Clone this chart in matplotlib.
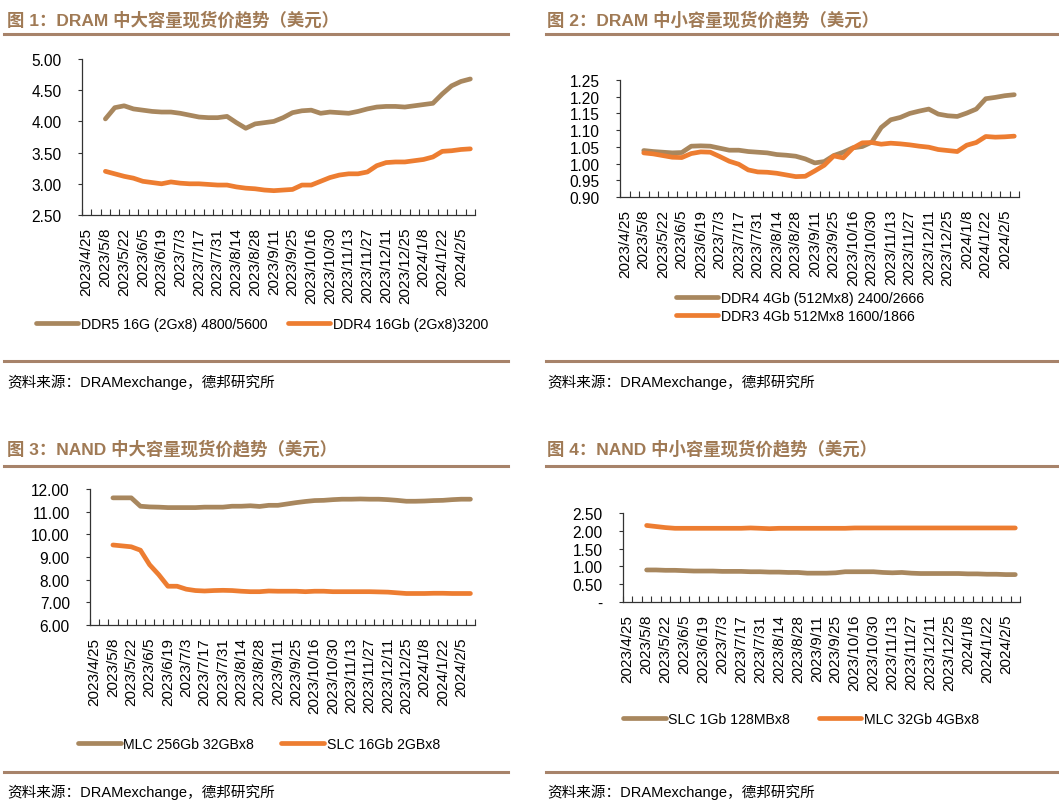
import numpy as np
import matplotlib
matplotlib.use('Agg')
import matplotlib.pyplot as plt
from matplotlib.lines import Line2D
from matplotlib.ticker import FixedLocator, FuncFormatter

plt.rcParams['font.family'] = ['Liberation Sans', 'Noto Sans CJK SC', 'DejaVu Sans']

# ---------------- data ----------------
dates = ['2023/4/25', '2023/5/1', '2023/5/8', '2023/5/15', '2023/5/22', '2023/5/29',
         '2023/6/5', '2023/6/12', '2023/6/19', '2023/6/26', '2023/7/3', '2023/7/10',
         '2023/7/17', '2023/7/24', '2023/7/31', '2023/8/7', '2023/8/14', '2023/8/21',
         '2023/8/28', '2023/9/4', '2023/9/11', '2023/9/18', '2023/9/25', '2023/10/9',
         '2023/10/16', '2023/10/23', '2023/10/30', '2023/11/6', '2023/11/13', '2023/11/20',
         '2023/11/27', '2023/12/4', '2023/12/11', '2023/12/18', '2023/12/25', '2024/1/1',
         '2024/1/8', '2024/1/15', '2024/1/22', '2024/1/29', '2024/2/5', '2024/2/19']
first_idx = 2  # data begins at 2023/5/8

ddr5_16g = [4.04, 4.22, 4.25, 4.20, 4.18, 4.16, 4.15, 4.15, 4.13, 4.10,
            4.07, 4.06, 4.06, 4.08, 3.98, 3.89, 3.96, 3.98, 4.00, 4.06,
            4.14, 4.17, 4.18, 4.13, 4.15, 4.14, 4.13, 4.16, 4.20, 4.23,
            4.24, 4.24, 4.23, 4.25, 4.27, 4.29, 4.44, 4.57, 4.64, 4.68]
ddr4_16gb = [3.20, 3.16, 3.12, 3.09, 3.04, 3.02, 3.00, 3.03, 3.01, 3.00,
             3.00, 2.99, 2.98, 2.98, 2.95, 2.93, 2.92, 2.90, 2.89, 2.90,
             2.91, 2.98, 2.98, 3.04, 3.10, 3.14, 3.16, 3.16, 3.19, 3.29,
             3.34, 3.35, 3.35, 3.37, 3.39, 3.43, 3.52, 3.53, 3.55, 3.56]

ddr4_4gb = [1.039, 1.036, 1.034, 1.032, 1.033, 1.052, 1.053, 1.052, 1.046, 1.040,
            1.040, 1.036, 1.034, 1.032, 1.027, 1.025, 1.022, 1.014, 1.002, 1.006,
            1.024, 1.034, 1.047, 1.051, 1.064, 1.108, 1.131, 1.138, 1.150, 1.157,
            1.163, 1.148, 1.143, 1.141, 1.151, 1.163, 1.194, 1.198, 1.203, 1.206]
ddr3_4gb = [1.032, 1.029, 1.024, 1.019, 1.018, 1.030, 1.035, 1.034, 1.021, 1.007,
            0.998, 0.981, 0.975, 0.974, 0.971, 0.966, 0.961, 0.962, 0.978, 0.995,
            1.023, 1.017, 1.046, 1.062, 1.063, 1.058, 1.061, 1.059, 1.056, 1.052,
            1.049, 1.042, 1.039, 1.036, 1.055, 1.063, 1.081, 1.079, 1.080, 1.082]

mlc_256gb = [11.61, 11.61, 11.61, 11.24, 11.21, 11.20, 11.18, 11.18, 11.18, 11.18,
             11.20, 11.20, 11.20, 11.24, 11.24, 11.26, 11.23, 11.28, 11.28, 11.34,
             11.40, 11.45, 11.49, 11.50, 11.53, 11.55, 11.55, 11.56, 11.55, 11.55,
             11.53, 11.50, 11.46, 11.46, 11.47, 11.49, 11.50, 11.53, 11.55, 11.55]
slc_16gb = [9.53, 9.49, 9.45, 9.30, 8.66, 8.22, 7.71, 7.71, 7.58, 7.52,
            7.50, 7.52, 7.53, 7.52, 7.49, 7.47, 7.47, 7.50, 7.49, 7.49,
            7.49, 7.47, 7.49, 7.49, 7.47, 7.47, 7.47, 7.47, 7.47, 7.46,
            7.45, 7.42, 7.39, 7.39, 7.39, 7.40, 7.40, 7.39, 7.39, 7.39]

slc_1gb = [0.90, 0.90, 0.89, 0.89, 0.88, 0.87, 0.87, 0.87, 0.86, 0.86,
           0.86, 0.85, 0.85, 0.84, 0.84, 0.83, 0.83, 0.81, 0.81, 0.81,
           0.82, 0.85, 0.85, 0.85, 0.85, 0.83, 0.82, 0.83, 0.81, 0.80,
           0.80, 0.80, 0.80, 0.80, 0.79, 0.79, 0.78, 0.78, 0.77, 0.77]
mlc_32gb = [2.15, 2.12, 2.09, 2.07, 2.07, 2.07, 2.07, 2.07, 2.07, 2.07,
            2.07, 2.08, 2.07, 2.06, 2.07, 2.07, 2.07, 2.07, 2.07, 2.07,
            2.07, 2.07, 2.08, 2.08, 2.08, 2.08, 2.08, 2.08, 2.08, 2.08,
            2.08, 2.08, 2.08, 2.08, 2.08, 2.08, 2.08, 2.08, 2.08, 2.08]

titles = ['图 1：DRAM 中大容量现货价趋势（美元）',
          '图 2：DRAM 中小容量现货价趋势（美元）',
          '图 3：NAND 中大容量现货价趋势（美元）',
          '图 4：NAND 中小容量现货价趋势（美元）']
source = '资料来源：DRAMexchange，德邦研究所'

# ---------------- style ----------------
GOLD = '#A8875E'
ORANGE = '#ED7D31'
BROWN = '#A07A55'
RULE = '#A7836A'

W, H = 1059, 812
fig = plt.figure(figsize=(W / 100, H / 100), dpi=100)


def fx(x):
    return x / W


def fy(y):
    return 1 - y / H


def make_axes(x0, x1, ytop, ybot):
    return fig.add_axes([fx(x0), fy(ybot), (x1 - x0) / W, (ybot - ytop) / H])


def rule(x0, x1, y):
    fig.add_artist(Line2D([fx(x0), fx(x1)], [fy(y), fy(y)], color=RULE, lw=2.2,
                          transform=fig.transFigure))


def fmt_factory(zero_dash):
    def f(v, pos):
        if zero_dash and abs(v) < 1e-9:
            return '-'
        return f'{v:.2f}'
    return FuncFormatter(f)


panels = [
    dict(box=(82, 475, 60, 216), ylim=(2.5, 5.0), yt=np.arange(2.5, 5.01, 0.5),
         series=[(ddr5_16g, GOLD, 'DDR5 16G (2Gx8) 4800/5600'),
                 (ddr4_16gb, ORANGE, 'DDR4 16Gb (2Gx8)3200')],
         leg=(262, 325), ncol=2, colsp=1.4, zero_dash=False),
    dict(box=(620, 1019, 81, 198), ylim=(0.9, 1.25), yt=np.arange(0.90, 1.2501, 0.05),
         series=[(ddr4_4gb, GOLD, 'DDR4 4Gb (512Mx8) 2400/2666'),
                 (ddr3_4gb, ORANGE, 'DDR3 4Gb 512Mx8 1600/1866')],
         leg=(800, 308), ncol=1, colsp=1.4, zero_dash=False),
    dict(box=(90, 475, 490, 626), ylim=(6, 12), yt=np.arange(6, 12.01, 1.0),
         series=[(mlc_256gb, GOLD, 'MLC 256Gb 32GBx8'),
                 (slc_16gb, ORANGE, 'SLC 16Gb 2GBx8')],
         leg=(259, 745), ncol=2, colsp=1.9, zero_dash=False),
    dict(box=(623, 1020, 514, 603), ylim=(0, 2.5), yt=np.arange(0, 2.501, 0.5),
         series=[(slc_1gb, GOLD, 'SLC 1Gb 128MBx8'),
                 (mlc_32gb, ORANGE, 'MLC 32Gb 4GBx8')],
         leg=(801, 720), ncol=2, colsp=2.0, zero_dash=True),
]

n = len(dates)
for p in panels:
    ax = make_axes(*p['box'])
    handles = []
    for vals, col, lab in p['series']:
        xs = np.arange(first_idx, first_idx + len(vals))
        ln, = ax.plot(xs, vals, color=col, lw=3.4, solid_joinstyle='round',
                      solid_capstyle='round', label=lab)
        handles.append(ln)
    ax.set_xlim(-0.5, n - 0.5)
    ax.set_ylim(*p['ylim'])
    ax.set_yticks(p['yt'])
    ax.yaxis.set_major_formatter(fmt_factory(p['zero_dash']))
    ax.set_xticks(np.arange(0, n, 2))
    ax.set_xticklabels(dates[0::2], rotation=90)
    ax.xaxis.set_minor_locator(FixedLocator(np.arange(-0.5, n, 1.0)))
    ax.tick_params(axis='x', which='major', length=0, pad=8.5, labelsize=11)
    ax.tick_params(axis='x', which='minor', direction='in', length=4, width=0.8,
                   color='#333333')
    ax.tick_params(axis='y', which='major', direction='out', length=3, width=0.8,
                   pad=11.5, labelsize=11.2, color='#333333')
    for s in ('top', 'right'):
        ax.spines[s].set_visible(False)
    for s in ('left', 'bottom'):
        ax.spines[s].set_color('#333333')
        ax.spines[s].set_linewidth(0.9)
    ax.set_facecolor('none')
    lx, ly = p['leg']
    ax.legend(handles=handles, loc='center', bbox_to_anchor=(fx(lx), fy(ly)),
              bbox_transform=fig.transFigure, ncol=p['ncol'], frameon=False,
              fontsize=10.2, handlelength=3.0, handletextpad=0.2,
              columnspacing=p['colsp'], labelspacing=0.3, borderpad=0)

# titles, rules, sources
title_pos = [(7, 20), (547, 20), (7, 449), (547, 449)]
for t, (x, y) in zip(titles, title_pos):
    fig.text(fx(x), fy(y), t, fontsize=12.5, fontweight='bold', color=BROWN,
             ha='left', va='center')

rule(4, 508, 35)
rule(546, 1059, 35)
rule(4, 508, 467)
rule(546, 1059, 467)
rule(4, 508, 362)
rule(546, 1059, 362)
rule(4, 508, 773)
rule(546, 1059, 773)

for (x, y) in [(7, 382), (547, 382), (7, 792), (547, 792)]:
    fig.text(fx(x), fy(y), source, fontsize=10.5, color='black', ha='left', va='center')

fig.savefig('out.png', dpi=100)
